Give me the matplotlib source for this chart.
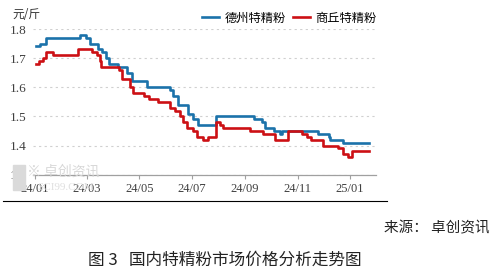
#!/usr/bin/env python3
"""国内特精粉市场价格走势图（德州 / 商丘）。"""

import matplotlib
matplotlib.use("Agg")
import matplotlib.pyplot as plt
import matplotlib.dates as mdates
from matplotlib.lines import Line2D
import pandas as pd

plt.rcParams["font.family"] = ["Noto Sans CJK SC", "DejaVu Sans"]
plt.rcParams["axes.unicode_minus"] = False

# 德州特精粉 价格变动点 (元/斤)
dezhou_dates = [
    "2024-01-02", "2024-01-07", "2024-01-14", "2024-02-22", "2024-02-29",
    "2024-03-05", "2024-03-14", "2024-03-19", "2024-03-23", "2024-03-27",
    "2024-04-06", "2024-04-17", "2024-04-23", "2024-05-10", "2024-06-06",
    "2024-06-09", "2024-06-15", "2024-06-26", "2024-07-02", "2024-07-08",
    "2024-07-29", "2024-09-11", "2024-09-20", "2024-09-24", "2024-10-04",
    "2024-10-11", "2024-10-14", "2024-11-25", "2024-12-07", "2024-12-09",
    "2024-12-24", "2025-01-23",
]
dezhou_prices = [
    1.74, 1.75, 1.77, 1.78, 1.77,
    1.75, 1.73, 1.72, 1.70, 1.68,
    1.67, 1.65, 1.62, 1.60, 1.59,
    1.57, 1.54, 1.51, 1.49, 1.47,
    1.50, 1.49, 1.48, 1.46, 1.45,
    1.44, 1.45, 1.44, 1.43, 1.42,
    1.41, 1.41,
]

# 商丘特精粉 价格变动点 (元/斤)
shangqiu_dates = [
    "2024-01-02", "2024-01-06", "2024-01-10", "2024-01-14", "2024-01-22",
    "2024-02-20", "2024-03-07", "2024-03-13", "2024-03-16", "2024-03-18",
    "2024-04-07", "2024-04-11", "2024-04-20", "2024-04-24", "2024-05-06",
    "2024-05-12", "2024-05-23", "2024-06-06", "2024-06-12", "2024-06-17",
    "2024-06-21", "2024-06-25", "2024-07-02", "2024-07-07", "2024-07-14",
    "2024-07-20", "2024-07-29", "2024-08-03", "2024-08-06", "2024-09-07",
    "2024-09-22", "2024-10-06", "2024-10-21", "2024-11-06", "2024-11-12",
    "2024-11-17", "2024-12-01", "2024-12-18", "2024-12-24", "2024-12-30",
    "2025-01-03", "2025-01-23",
]
shangqiu_prices = [
    1.68, 1.69, 1.70, 1.72, 1.71,
    1.73, 1.72, 1.71, 1.69, 1.67,
    1.66, 1.63, 1.60, 1.58, 1.57,
    1.56, 1.55, 1.53, 1.52, 1.50,
    1.48, 1.46, 1.45, 1.43, 1.42,
    1.43, 1.48, 1.47, 1.46, 1.45,
    1.44, 1.42, 1.45, 1.44, 1.43,
    1.42, 1.40, 1.39, 1.37, 1.36,
    1.38, 1.38,
]

tick_dates = ["2024-01-01", "2024-03-01", "2024-05-01", "2024-07-01",
              "2024-09-01", "2024-11-01", "2025-01-01"]
tick_labels = ["24/01", "24/03", "24/05", "24/07", "24/09", "24/11", "25/01"]
y_ticks = [1.3, 1.4, 1.5, 1.6, 1.7, 1.8]

BLUE = "#1B72AA"
RED = "#CC1014"
SERIF = ["Liberation Serif", "DejaVu Serif"]


def main():
    W, H = 495, 279
    fig = plt.figure(figsize=(W / 100, H / 100), dpi=100)
    ax = fig.add_axes([33 / W, 1 - 174.7 / H, (376 - 33) / W, (174.7 - 29) / H])

    ax.plot(pd.to_datetime(dezhou_dates), dezhou_prices, drawstyle="steps-post",
            color=BLUE, lw=1.9, label="德州特精粉", zorder=3)
    ax.plot(pd.to_datetime(shangqiu_dates), shangqiu_prices, drawstyle="steps-post",
            color=RED, lw=1.9, label="商丘特精粉", zorder=3)

    ax.set_xlim(pd.Timestamp("2023-12-29 12:00"), pd.Timestamp("2025-01-31"))
    ax.set_ylim(1.3, 1.8)
    ax.set_yticks(y_ticks)
    ax.set_yticklabels([f"{v:.1f}" for v in y_ticks], family=SERIF, fontsize=9.5)
    ax.set_xticks(mdates.date2num(pd.to_datetime(tick_dates)))
    ax.set_xticklabels(tick_labels, family=SERIF, fontsize=9)
    ax.tick_params(axis="y", length=0, pad=5, colors="#404040")
    ax.tick_params(axis="x", length=3, width=0.8, color="#A0A0A0", pad=3, labelcolor="#404040")

    ax.grid(axis="y", ls=(0, (2, 3)), color="#D0D0D0", lw=0.8)
    ax.spines[["top", "right", "left"]].set_visible(False)
    ax.spines["bottom"].set_color("#A0A0A0")
    ax.spines["bottom"].set_linewidth(0.9)

    ax.legend(loc="lower right", bbox_to_anchor=(1.0, 1.03), ncol=2, frameon=False,
              fontsize=8.8, handlelength=1.4, handletextpad=0.4, columnspacing=0.6,
              borderaxespad=0, borderpad=0)

    fig.text(12 / W, 1 - 14 / H, "元/斤", fontsize=8.5, va="center", ha="left", color="#333333")

    # 水印
    fig.patches.append(plt.Rectangle((13 / W, 1 - 190 / H), 12 / W, 25 / H,
                                     transform=fig.transFigure, color="#DADADA", zorder=0))
    fig.text(27 / W, 1 - 172 / H, "※ 卓创资讯", fontsize=10, color="#D8D8D8",
             va="center", ha="left", zorder=0)
    fig.text(37 / W, 1 - 188 / H, "SCI99.COM", fontsize=8, color="#E0E0E0",
             va="center", ha="left", family=SERIF, zorder=0)

    fig.add_artist(Line2D([3 / W, 387 / W], [1 - 200.7 / H] * 2, color="black", lw=0.8))

    fig.text(490 / W, 1 - 228 / H, "来源： 卓创资讯", fontsize=10.5, ha="right", va="center",
             color="#222222", fontweight="light")
    fig.text(225 / W, 1 - 260 / H, "图 3   国内特精粉市场价格分析走势图", fontsize=12,
             ha="center", va="center", color="#222222", fontweight="light")

    fig.savefig("out.png", dpi=100, facecolor="white")
    plt.close(fig)


if __name__ == "__main__":
    main()
